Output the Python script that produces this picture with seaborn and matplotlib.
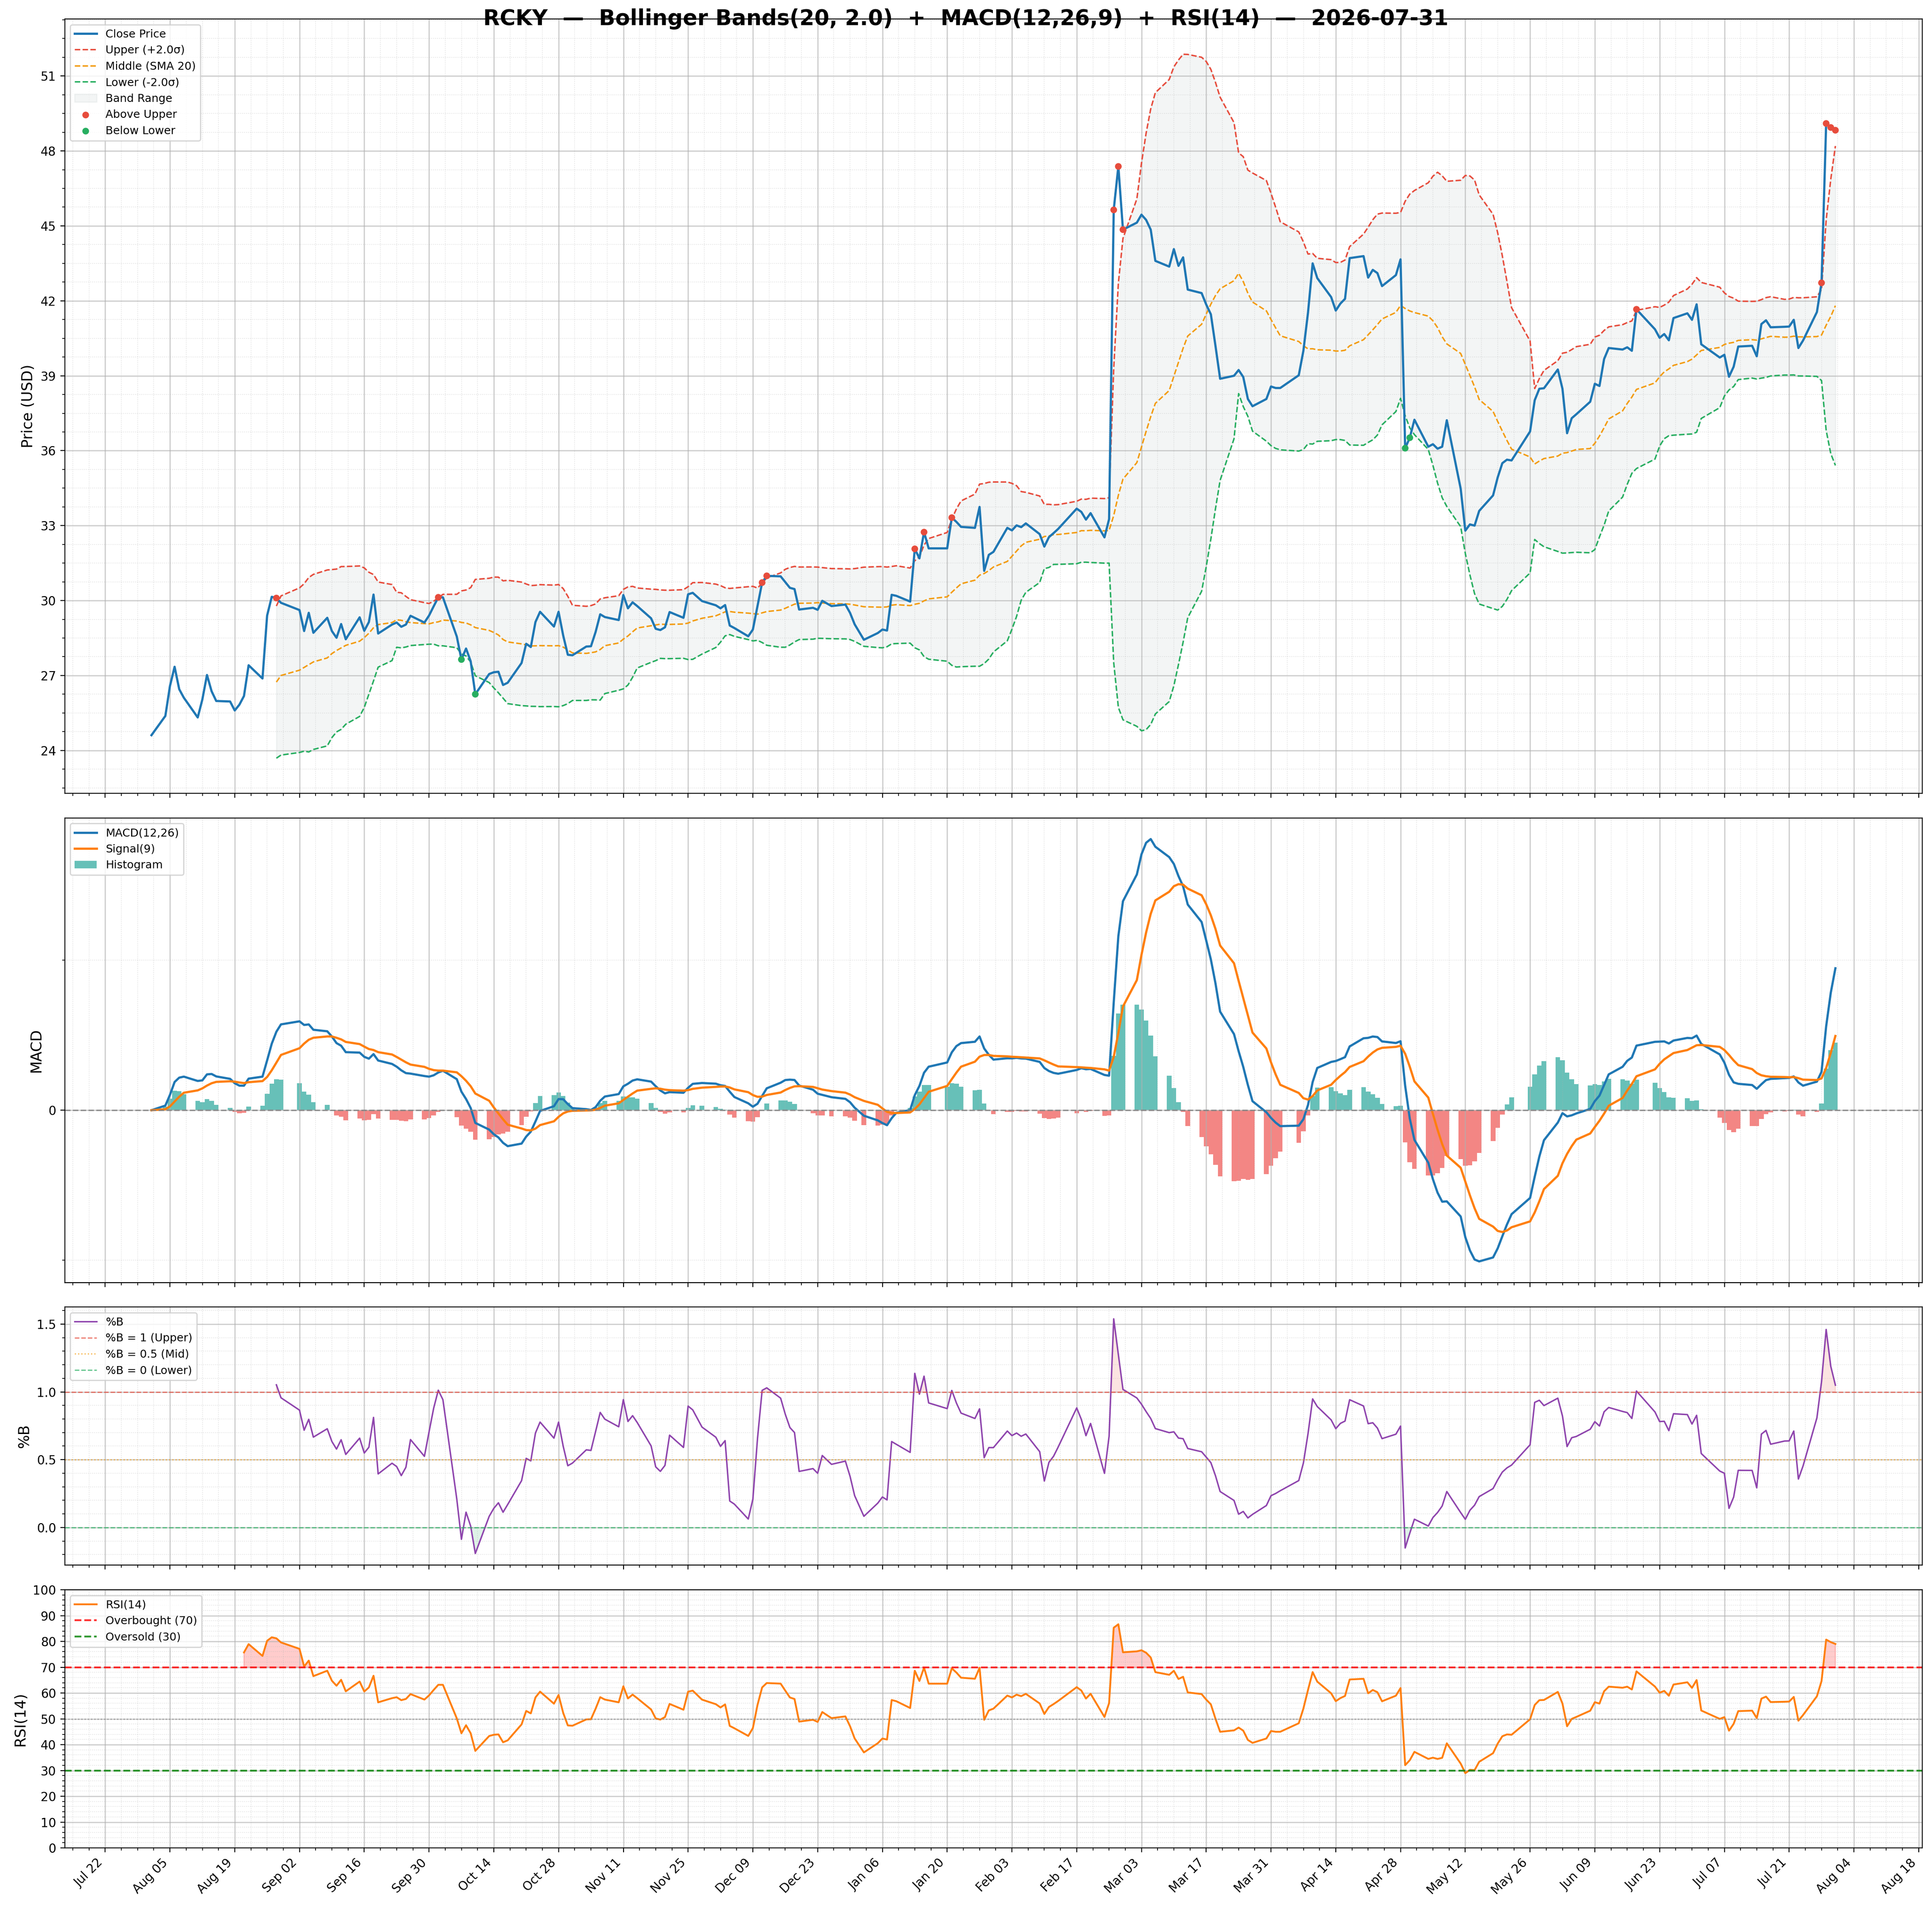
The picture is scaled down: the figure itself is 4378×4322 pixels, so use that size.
import numpy as np
import pandas as pd
import matplotlib
matplotlib.use('Agg')
from matplotlib import pyplot as plt
import matplotlib.dates as mdates
from matplotlib.ticker import AutoMinorLocator, MultipleLocator, FixedLocator
import seaborn as sns

ticker = 'RCKY'
as_of = '2026-07-31'
bb_window, bb_k = 20, 2.0
fast, slow, sig_len = 12, 26, 9
rsi_len = 14

# NYSE trading days (market holidays are skipped)
holidays = ['2025-09-01', '2025-11-27', '2025-12-25', '2026-01-01', '2026-01-19',
            '2026-02-16', '2026-04-03', '2026-05-25', '2026-06-19', '2026-07-03']
dates = pd.bdate_range('2025-08-01', '2026-07-31', freq='C', holidays=holidays)

# daily closes, one row per trading week
close = [
    24.61,
    25.38, 26.58, 27.35, 26.45, 26.11,
    25.32, 26.04, 27.02, 26.37, 25.98,
    25.96, 25.60, 25.83, 26.18, 27.41,
    26.88, 29.40, 30.15, 30.10, 29.91,
    29.62, 28.78, 29.51, 28.71,
    29.31, 28.78, 28.51, 29.06, 28.45,
    29.33, 28.79, 29.14, 30.24, 28.68,
    29.04, 29.12, 28.95, 29.04, 29.39,
    29.12, 29.40, 29.77, 30.13, 30.13,
    28.56, 27.64, 28.08, 27.57, 26.25,
    27.06, 27.13, 27.15, 26.62, 26.71,
    27.50, 28.27, 28.14, 29.14, 29.55,
    28.96, 29.55, 28.60, 27.83, 27.81,
    28.16, 28.17, 28.74, 29.45, 29.34,
    29.22, 30.22, 29.69, 29.93, 29.78,
    29.29, 28.87, 28.82, 28.93, 29.54,
    29.31, 30.25, 30.31, 29.98,
    29.81, 29.69, 29.82, 29.00, 28.90,
    28.57, 28.84, 29.78, 30.72, 30.99,
    30.97, 30.74, 30.51, 30.46, 29.64,
    29.71, 29.63, 29.99, 29.78,
    29.84, 29.51, 29.05, 28.43,
    28.70, 28.84, 28.80, 30.23, 30.19,
    29.96, 32.07, 31.69, 32.74, 32.09,
    32.09, 33.32, 33.15, 32.95,
    32.91, 33.75, 31.19, 31.83, 31.95,
    32.91, 32.81, 33.01, 32.94, 33.09,
    32.66, 32.16, 32.54, 32.70, 32.87,
    33.68, 33.55, 33.24, 33.50,
    32.53, 33.26, 45.64, 47.38, 44.85,
    45.13, 45.45, 45.24, 44.85, 43.60,
    43.37, 44.07, 43.40, 43.74, 42.45,
    42.31, 41.85, 41.46, 40.19, 38.88,
    39.00, 39.23, 38.95, 38.07, 37.78,
    38.07, 38.57, 38.51, 38.51,
    39.02, 40.00, 41.53, 43.50, 42.91,
    42.15, 41.61, 41.89, 42.08, 43.71,
    43.79, 42.93, 43.24, 43.11, 42.59,
    43.03, 43.66, 36.10, 36.52, 37.24,
    36.16, 36.26, 36.08, 36.16, 37.22,
    34.48, 32.80, 33.05, 33.00, 33.59,
    34.21, 34.93, 35.50, 35.64, 35.61,
    36.77, 38.02, 38.48, 38.50,
    39.25, 38.48, 36.70, 37.30, 37.46,
    37.96, 38.68, 38.59, 39.67, 40.11,
    40.05, 40.14, 40.00, 41.66,
    40.86, 40.52, 40.67, 40.42, 41.31,
    41.50, 41.24, 41.86, 40.26,
    39.73, 39.84, 38.96, 39.36, 40.17,
    40.20, 39.78, 41.07, 41.22, 40.94,
    40.96, 40.97, 41.24, 40.11, 40.41,
    41.55, 42.72, 49.10, 48.94, 48.83,
]

df = pd.DataFrame({'date': dates, 'close': close})

# indicators
df['mid'] = df['close'].rolling(bb_window).mean()
sd = df['close'].rolling(bb_window).std()
df['upper'] = df['mid'] + bb_k * sd
df['lower'] = df['mid'] - bb_k * sd
df['pctb'] = (df['close'] - df['lower']) / (df['upper'] - df['lower'])
ema_f = df['close'].ewm(span=fast, adjust=False).mean()
ema_s = df['close'].ewm(span=slow, adjust=False).mean()
df['macd'] = ema_f - ema_s
df['signal'] = df['macd'].ewm(span=sig_len, adjust=False).mean()
df['hist'] = df['macd'] - df['signal']
delta = df['close'].diff()
gain = delta.clip(lower=0).ewm(alpha=1 / rsi_len, min_periods=rsi_len, adjust=False).mean()
loss = (-delta.clip(upper=0)).ewm(alpha=1 / rsi_len, min_periods=rsi_len, adjust=False).mean()
df['rsi'] = 100 - 100 / (1 + gain / loss)

above = df[df['close'] > df['upper']]
below = df[df['close'] < df['lower']]

fig, axes = plt.subplots(4, 1, figsize=(21.89, 21.61), dpi=200, sharex=True,
                         gridspec_kw={'height_ratios': [3, 1.8, 1, 1], 'hspace': 0.056})
fig.subplots_adjust(left=0.0335, right=0.9949, top=0.990, bottom=0.031)
ax1, ax2, ax3, ax4 = axes

# price + bands
sns.lineplot(data=df, x='date', y='close', ax=ax1, color='#1f77b4', lw=1.8,
             errorbar=None, label='Close Price', zorder=3)
sns.lineplot(data=df, x='date', y='upper', ax=ax1, color='#e74c3c', lw=1.2,
             linestyle='--', errorbar=None, label=f'Upper (+{bb_k}σ)')
sns.lineplot(data=df, x='date', y='mid', ax=ax1, color='#f39c12', lw=1.2,
             linestyle='--', errorbar=None, label=f'Middle (SMA {bb_window})')
sns.lineplot(data=df, x='date', y='lower', ax=ax1, color='#27ae60', lw=1.2,
             linestyle='--', errorbar=None, label=f'Lower (-{bb_k}σ)')
ax1.fill_between(df['date'], df['lower'], df['upper'], color='#95a5a6', alpha=0.11,
                 label='Band Range')
sns.scatterplot(data=above, x='date', y='close', ax=ax1, color='#e74c3c', s=30,
                edgecolor='none', label='Above Upper', zorder=5)
sns.scatterplot(data=below, x='date', y='close', ax=ax1, color='#27ae60', s=30,
                edgecolor='none', label='Below Lower', zorder=5)
ax1.set_ylabel('Price (USD)', fontsize=12)
ax1.yaxis.set_major_locator(MultipleLocator(3))
ax1.legend(loc='upper left', fontsize=9)

# MACD
bar_colors = np.where(df['hist'] >= 0, '#26a69a', '#ef5350')
ax2.bar(df['date'], df['hist'], width=1.0, color=bar_colors, alpha=0.7, label='Histogram')
sns.lineplot(data=df, x='date', y='macd', ax=ax2, color='#1f77b4', lw=1.8,
             errorbar=None, label=f'MACD({fast},{slow})')
sns.lineplot(data=df, x='date', y='signal', ax=ax2, color='#ff7f0e', lw=1.8,
             errorbar=None, label=f'Signal({sig_len})')
ax2.axhline(0, color='gray', ls='--', lw=1.2, alpha=0.8)
ax2.set_ylabel('MACD', fontsize=12)
ax2.yaxis.set_major_locator(MultipleLocator(10))
h, l = ax2.get_legend_handles_labels()
order = [l.index(f'MACD({fast},{slow})'), l.index(f'Signal({sig_len})'), l.index('Histogram')]
ax2.legend([h[i] for i in order], [l[i] for i in order], loc='upper left', fontsize=9)

# %B
sns.lineplot(data=df, x='date', y='pctb', ax=ax3, color='#8e44ad', lw=1.2,
             errorbar=None, label='%B')
ax3.axhline(1.0, color='#e74c3c', ls='--', lw=1.0, alpha=0.7, label='%B = 1 (Upper)')
ax3.axhline(0.5, color='#f39c12', ls=':', lw=1.0, alpha=0.7, label='%B = 0.5 (Mid)')
ax3.axhline(0.0, color='#27ae60', ls='--', lw=1.0, alpha=0.7, label='%B = 0 (Lower)')
ax3.fill_between(df['date'], df['pctb'], 1, where=df['pctb'] > 1, interpolate=True,
                 color='#e74c3c', alpha=0.15)
ax3.fill_between(df['date'], df['pctb'], 0, where=df['pctb'] < 0, interpolate=True,
                 color='#27ae60', alpha=0.15)
ax3.set_ylabel('%B', fontsize=12)
ax3.yaxis.set_major_locator(MultipleLocator(0.5))
ax3.legend(loc='upper left', fontsize=9)

# RSI
sns.lineplot(data=df, x='date', y='rsi', ax=ax4, color='#ff7f0e', lw=1.5,
             errorbar=None, label=f'RSI({rsi_len})')
ax4.axhline(70, color='red', ls='--', lw=1.5, alpha=0.8, label='Overbought (70)')
ax4.axhline(30, color='green', ls='--', lw=1.5, alpha=0.8, label='Oversold (30)')
ax4.axhline(50, color='gray', ls=':', lw=1.0, alpha=0.6)
ax4.fill_between(df['date'], df['rsi'], 70, where=df['rsi'] >= 70, interpolate=True,
                 color='red', alpha=0.2)
ax4.fill_between(df['date'], df['rsi'], 30, where=df['rsi'] <= 30, interpolate=True,
                 color='green', alpha=0.2)
ax4.set_ylim(0, 100)
ax4.yaxis.set_major_locator(MultipleLocator(10))
ax4.set_ylabel(f'RSI({rsi_len})', fontsize=12)
ax4.legend(loc='upper left', fontsize=9)

ticks = pd.date_range('2025-07-22', '2026-08-18', freq='14D')
ax4.xaxis.set_major_locator(FixedLocator(mdates.date2num(ticks)))
ax4.xaxis.set_major_formatter(mdates.DateFormatter('%b %d'))

for ax in axes:
    ax.xaxis.set_minor_locator(AutoMinorLocator(4))
    ax.yaxis.set_minor_locator(AutoMinorLocator())
    ax.grid(True, which='major', color='#b0b0b0', alpha=0.6, lw=1.0)
    ax.grid(True, which='minor', color='#b0b0b0', ls=':', alpha=0.4, lw=0.6)
    ax.set_xlabel('')
    ax.tick_params(labelsize=10)

plt.setp(ax4.get_xticklabels(), rotation=45, ha='right')

fig.suptitle(f'{ticker}  —  Bollinger Bands({bb_window}, {bb_k})  +  MACD({fast},{slow},{sig_len})'
             f'  +  RSI({rsi_len})  —  {as_of}', fontsize=17.5, fontweight='bold', y=0.9955)

fig.savefig('out.png', dpi=200)
